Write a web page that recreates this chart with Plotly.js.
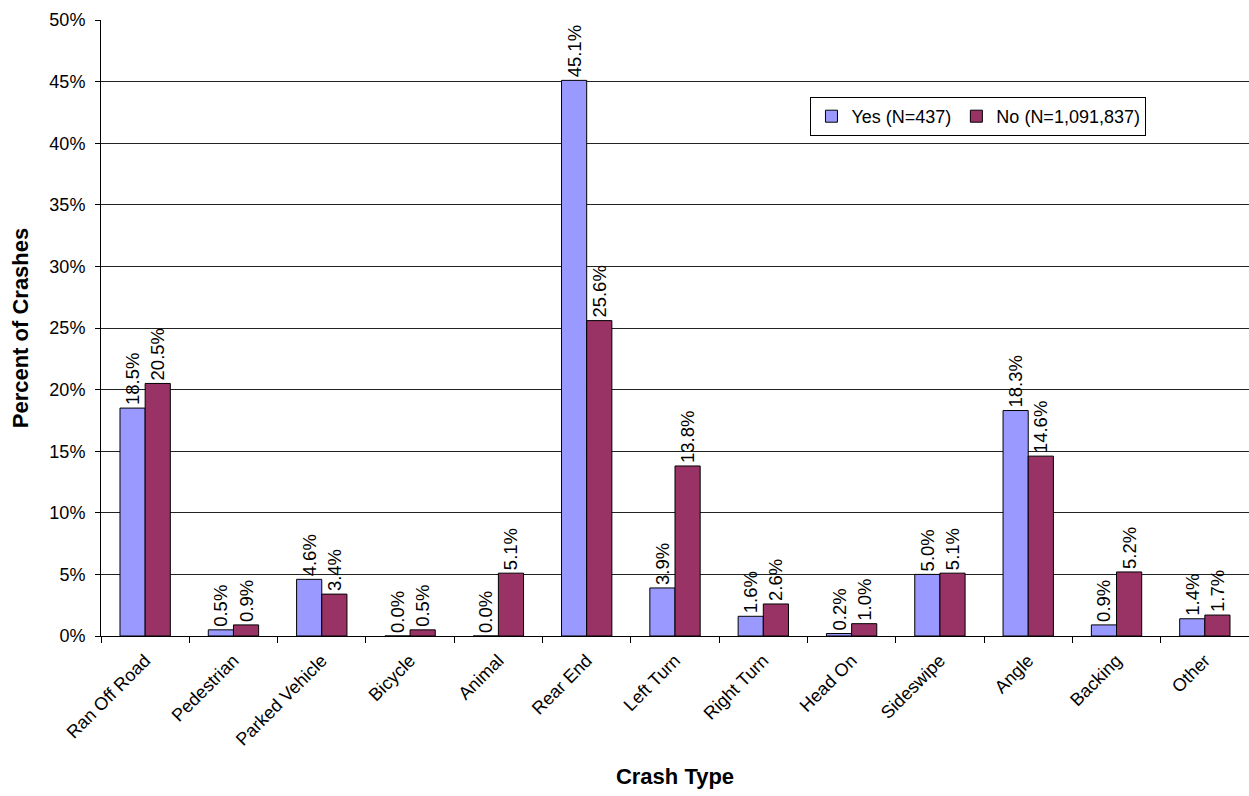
<!DOCTYPE html>
<html>
<head>
<meta charset="utf-8">
<script src="https://cdn.plot.ly/plotly-3.0.1.min.js"></script>
<style>html,body{margin:0;padding:0;background:#fff;}#chart{width:1249px;height:796px;}</style>
</head>
<body>
<div id="chart"></div>
<script>
const categories = ["Ran Off Road","Pedestrian","Parked Vehicle","Bicycle","Animal","Rear End","Left Turn","Right Turn","Head On","Sideswipe","Angle","Backing","Other"];
const yesValues = [18.5, 0.5, 4.6, 0.0, 0.0, 45.1, 3.9, 1.6, 0.2, 5.0, 18.3, 0.9, 1.4];
const noValues  = [20.5, 0.9, 3.4, 0.5, 5.1, 25.6, 13.8, 2.6, 1.0, 5.1, 14.6, 5.2, 1.7];
const yesName = "Yes (N=437)";
const noName = "No (N=1,091,837)";
const yTickVals = [0,5,10,15,20,25,30,35,40,45,50];
const yTickText = ["0%","5%","10%","15%","20%","25%","30%","35%","40%","45%","50%"];

const font = "Arial, 'Liberation Sans', sans-serif";
function mk(vals, name, color) {
  return {
    type: 'bar', x: categories, y: vals, name: name,
    marker: {color: color, line: {color: '#000', width: 1}},
    text: vals.map(v => v.toFixed(1) + '%'),
    textposition: 'outside', textangle: -90, cliponaxis: false,
    textfont: {family: font, size: 18.5, color: '#000'},
    hoverinfo: 'x+y'
  };
}
const data = [mk(yesValues, yesName, '#9999FF'), mk(noValues, noName, '#993366')];
const layout = {
  width: 1249, height: 796,
  margin: {l: 101, r: 0, t: 20, b: 160},
  paper_bgcolor: '#fff', plot_bgcolor: '#fff',
  barmode: 'group', bargap: 0.43, bargroupgap: 0,
  uniformtext: {mode: 'show', minsize: 18},
  font: {family: font, color: '#000'},
  xaxis: {
    tickangle: -45, tickfont: {size: 18, family: font},
    ticks: 'outside', ticklen: 6, tickcolor: '#000', tickson: 'boundaries',
    ticklabelstandoff: 6,
    showline: true, linecolor: '#000', linewidth: 1,
    title: {text: '<b>Crash Type</b>', font: {size: 22, family: font}, standoff: 19}
  },
  yaxis: {
    range: [0, 50], tickvals: yTickVals, ticktext: yTickText,
    tickfont: {size: 18, family: font},
    ticks: 'outside', ticklen: 5, tickcolor: '#000',
    ticklabelstandoff: 6,
    showgrid: true, gridcolor: '#222', gridwidth: 1,
    showline: true, linecolor: '#000', linewidth: 1, zeroline: false,
    title: {text: '<b>Percent of Crashes</b>', font: {size: 22, family: font}, standoff: 14}
  },
  legend: {
    orientation: 'h', x: 0.618, y: 0.875, xanchor: 'left', yanchor: 'top',
    bordercolor: '#000', borderwidth: 1, bgcolor: '#fff',
    font: {size: 18, family: font}, traceorder: 'normal'
  },
  showlegend: true
};
Plotly.newPlot('chart', data, layout, {displayModeBar: false, staticPlot: true});
</script>
</body>
</html>
